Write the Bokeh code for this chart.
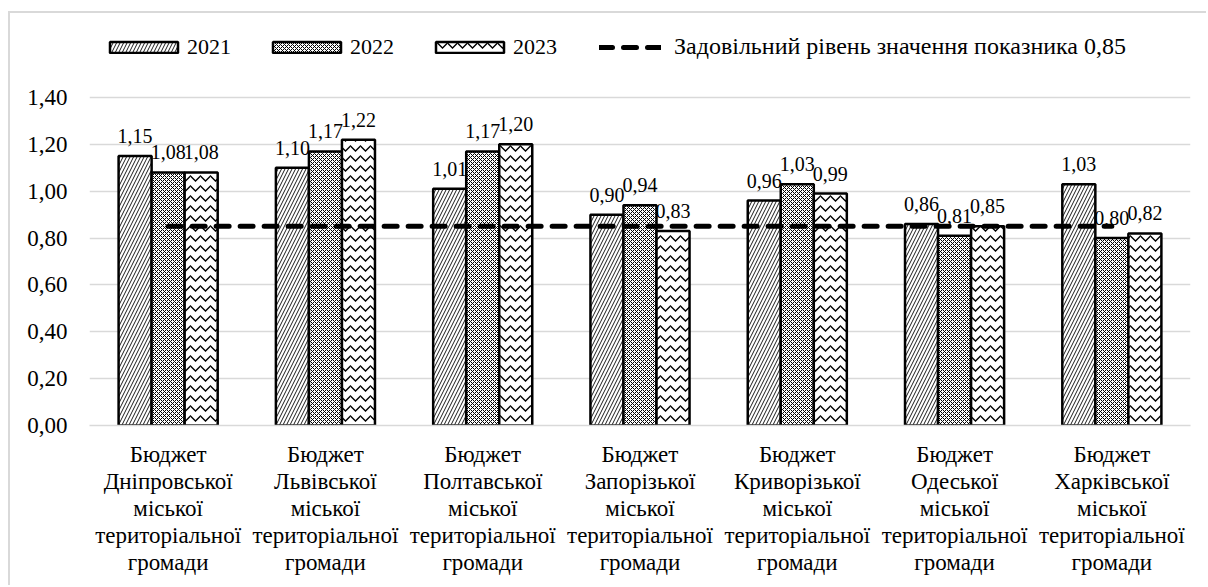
from bokeh.plotting import figure
from bokeh.models import (ColumnDataSource, FactorRange, Legend, LegendItem,
                          CustomJSTickFormatter, FixedTicker, Range1d)
from bokeh.transform import dodge
from bokeh.core.properties import value
from bokeh.embed import file_html
from bokeh.resources import INLINE

# ---- data ----
cities = ["Дніпровської", "Львівської", "Полтавської", "Запорізької",
          "Криворізької", "Одеської", "Харківської"]
categories = [f"Бюджет\n{c}\nміської\nтериторіальної\nгромади" for c in cities]
years = ["2021", "2022", "2023"]
v2021 = [1.15, 1.10, 1.01, 0.90, 0.96, 0.86, 1.03]
v2022 = [1.08, 1.17, 1.17, 0.94, 1.03, 0.81, 0.80]
v2023 = [1.08, 1.22, 1.20, 0.83, 0.99, 0.85, 0.82]
threshold = 0.85
threshold_label = "Задовільний рівень значення показника 0,85"
y_ticks = [0.0, 0.2, 0.4, 0.6, 0.8, 1.0, 1.2, 1.4]

FONT = "Liberation Serif"

# layout: gridline 1.40 lies 328px above the 0.00 line; frame extends higher to host the legend
FRAME_H = 405
Y_TOP = 1.4 * FRAME_H / 328


def fmt(v):
    return f"{v:.2f}".replace(".", ",")


src = ColumnDataSource(dict(
    cat=categories,
    y2021=v2021, y2022=v2022, y2023=v2023,
    l2021=[fmt(v) for v in v2021],
    l2022=[fmt(v) for v in v2022],
    l2023=[fmt(v) for v in v2023],
))

p = figure(x_range=FactorRange(*categories), y_range=Range1d(0, Y_TOP),
           width=1198, height=574, output_backend="svg", toolbar_location=None,
           min_border_left=79, min_border_right=18, min_border_top=7,
           min_border_bottom=162)
p.styles = {"border-left": "2px solid #d9d9d9", "border-top": "2px solid #d9d9d9",
            "margin-top": "11px", "margin-left": "8px"}
p.outline_line_color = None
p.background_fill_color = "white"
p.border_fill_color = "white"

styles = [
    dict(hatch_pattern="/", hatch_scale=7, hatch_weight=0.9),
    dict(hatch_pattern="x", hatch_scale=4, hatch_weight=1.0),
    dict(hatch_pattern="v", hatch_scale=10, hatch_weight=1.3),
]
offsets = [-0.21, 0.0, 0.21]
bar_renderers = []
for yr, off, st in zip(years, offsets, styles):
    r = p.vbar(x=dodge("cat", off, range=p.x_range), top=f"y{yr}", width=0.21,
               source=src, fill_color="white", line_color="black", line_width=2.5,
               hatch_color="black", **st)
    bar_renderers.append(r)

line_r = p.line(x=categories, y=[threshold] * len(categories), line_color="black",
                line_width=5, line_dash="13 11", line_cap="round")

for yr, off in zip(years, offsets):
    p.text(x=dodge("cat", off, range=p.x_range), y=f"y{yr}", text=f"l{yr}",
           source=src, text_align="center", text_baseline="alphabetic", y_offset=-20,
           text_font=value(FONT), text_font_size="20px", text_color="black")

# axes
p.yaxis.ticker = FixedTicker(ticks=y_ticks)
p.yaxis.formatter = CustomJSTickFormatter(code="return tick.toFixed(2).replace('.', ',');")
p.yaxis.axis_line_color = None
p.yaxis.major_tick_line_color = None
p.yaxis.minor_tick_line_color = None
p.yaxis.major_label_standoff = 16
p.yaxis.major_label_text_font = FONT
p.yaxis.major_label_text_font_size = "23px"
p.yaxis.major_label_text_color = "black"

p.xaxis.axis_line_color = "#d9d9d9"
p.xaxis.axis_line_width = 1.5
p.xaxis.major_tick_line_color = None
p.xaxis.minor_tick_line_color = None
p.xaxis.major_label_standoff = 10
p.xaxis.major_label_text_font = FONT
p.xaxis.major_label_text_font_size = "23px"
p.xaxis.major_label_text_color = "black"
p.xaxis.major_label_text_line_height = 1.08

p.xgrid.visible = False
p.ygrid.grid_line_color = "#d9d9d9"
p.ygrid.grid_line_width = 1.5

common = dict(orientation="horizontal", padding=0, margin=0, border_line_color=None,
              background_fill_alpha=0, label_text_font=FONT, label_text_color="black")
leg1 = Legend(items=[LegendItem(label=yr, renderers=[r]) for yr, r in zip(years, bar_renderers)],
              location=(12, 365), glyph_width=85, glyph_height=14, label_standoff=1,
              spacing=33, label_text_font_size="22px", **common)
leg2 = Legend(items=[LegendItem(label=threshold_label, renderers=[line_r])],
              location=(510, 365), glyph_width=62, glyph_height=14, label_standoff=13,
              label_text_font_size="24px", **common)
p.add_layout(leg1, "center")
p.add_layout(leg2, "center")

open("out.html", "w").write(file_html(p, INLINE))
